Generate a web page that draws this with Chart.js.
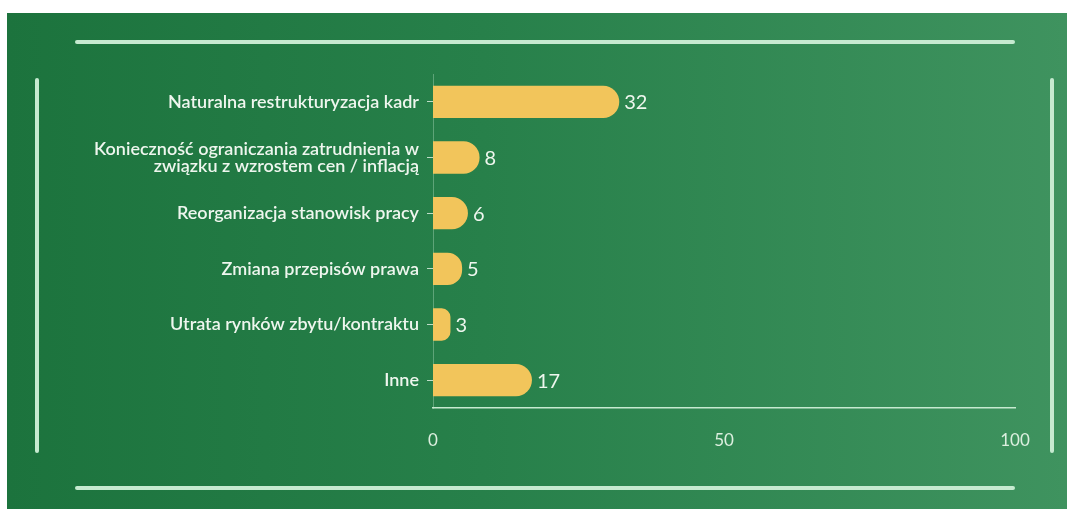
<!DOCTYPE html>
<html>
<head>
<meta charset="utf-8">
<script src="https://cdn.jsdelivr.net/npm/chart.js@4"></script>
<style>
  html, body { margin: 0; padding: 0; background: #fff; }
  #panel {
    position: absolute; left: 7px; top: 13px; width: 1060px; height: 496px;
    background: linear-gradient(to right, #1c733d 0%, #27804a 45%, #3f935f 100%);
  }
  .bar { position: absolute; background: #c6ead0; border-radius: 2px; }
  canvas { position: absolute; left: 0; top: 0; }
</style>
</head>
<body>
<div id="panel">
  <div class="bar" style="left:68px; top:27px; width:940px; height:4px;"></div>
  <div class="bar" style="left:68px; top:473px; width:940px; height:4px;"></div>
  <div class="bar" style="left:28px; top:65px; width:4px; height:375px;"></div>
  <div class="bar" style="left:1043px; top:65px; width:4px; height:375px;"></div>
  <canvas id="myChart" width="1060" height="496"></canvas>
</div>
<script>
/* dane */
const categories = [
  'Naturalna restrukturyzacja kadr',
  ['Konieczność ograniczania zatrudnienia w', 'związku z wzrostem cen / inflacją'],
  'Reorganizacja stanowisk pracy',
  'Zmiana przepisów prawa',
  'Utrata rynków zbytu/kontraktu',
  'Inne'
];
const values = [32, 8, 6, 5, 3, 17];
const tickValues = [0, 50, 100];

const textColor = '#eef6ee';

/* etykiety wartości przy słupkach */
const valueLabels = {
  id: 'valueLabels',
  afterDatasetsDraw(chart) {
    const c = chart.ctx;
    c.save();
    c.font = '20px Lato';
    c.fillStyle = textColor;
    c.textBaseline = 'middle';
    c.textAlign = 'left';
    chart.getDatasetMeta(0).data.forEach((bar, i) => {
      c.fillText(values[i], bar.x + 5, bar.y + 1);
    });
    c.restore();
  }
};

const ctx = document.getElementById('myChart');
var config = {
  type: 'bar',
  data: {
    labels: categories,
    datasets: [{
      data: values,
      backgroundColor: '#f2c55b',
      borderRadius: { topRight: 16, bottomRight: 16 },
      borderSkipped: 'start',
      barPercentage: 0.58,
      categoryPercentage: 1
    }]
  },
  plugins: [valueLabels],
  options: {
    indexAxis: 'y',
    responsive: false,
    animation: false,
    layout: { padding: { top: 61, right: 52, bottom: 40, left: 0 } },
    plugins: { legend: { display: false }, tooltip: { enabled: false } },
    scales: {
      x: {
        min: 0,
        max: 100,
        afterBuildTicks: s => { s.ticks = tickValues.map(v => ({ value: v })); },
        grid: { display: false },
        border: { display: true, color: '#c6ead0', width: 1.5 },
        ticks: { color: '#dcefdf', font: { family: 'Lato', size: 17 }, padding: 14 },
        afterFit: s => { s.height = 61; }
      },
      y: {
        grid: { offset: false, drawOnChartArea: false, drawTicks: true, tickLength: 6, color: 'rgba(230,245,232,0.8)' },
        border: { display: true, color: 'rgba(200,235,210,0.35)', width: 1 },
        ticks: { color: textColor, font: { family: 'Lato', size: 18, weight: '600', lineHeight: 0.95 }, padding: 8 },
        afterFit: s => { s.width = 426; }
      }
    }
  }
};

var myChart = new Chart(ctx, config);
</script>
</body>
</html>
